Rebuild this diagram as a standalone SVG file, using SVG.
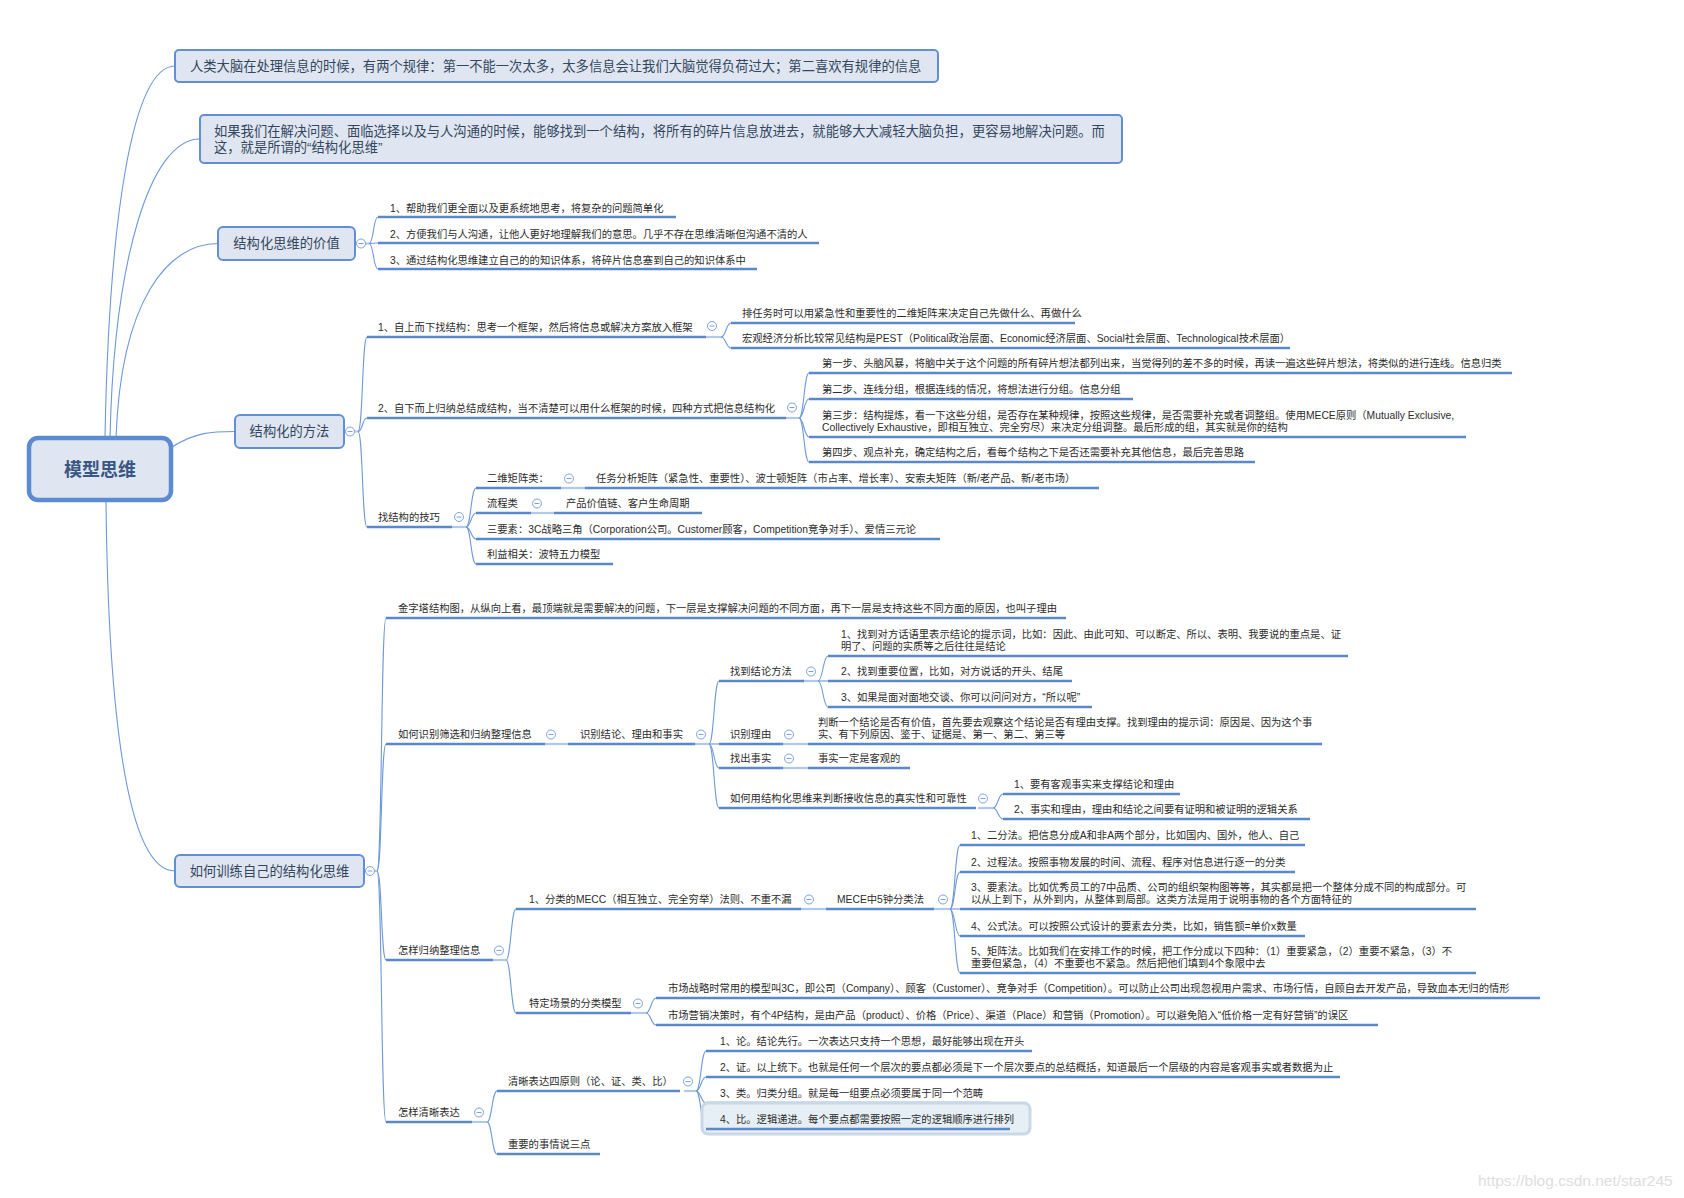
<svg xmlns="http://www.w3.org/2000/svg" xmlns:xlink="http://www.w3.org/1999/xlink" width="1684" height="1198" viewBox="0 0 1684 1198">
<style>
text{font-family:'Liberation Sans','Noto Sans CJK SC',sans-serif;dominant-baseline:central}
.t{font-size:10.3px;fill:#2b2b2b}
.bt{font-size:13.3px;fill:#34465e}
.bx{fill:#dfe6f1;stroke:#628fd3;stroke-width:2}
.u{stroke:#5b87cc;stroke-width:2.6;fill:none}
.s{stroke:#b0c8ea;stroke-width:2.2;fill:none}
.c{fill:none;stroke:#6e98d8;stroke-width:1.1}
.k circle{fill:#fff;stroke:#7ea2dc;stroke-width:1}
.k path{stroke:#7ea2dc;stroke-width:1}
</style>
<defs>
<g id="col" class="k"><circle cx="0" cy="0" r="4.5"/><path d="M-2.5,0h5"/></g>
</defs>
<rect width="1684" height="1198" fill="#fff"/>

<g id="connectors">
<path class="c" d="M105,438 C109,220 132,66 175,66"/>
<path class="c" d="M110,438 C114,260 150,139 200,139"/>
<path class="c" d="M116,438 C121,300 168,243.5 218,243.5"/>
<path class="c" d="M172,447 C196,432 212,431.5 235,431.5"/>
<path class="c" d="M106,500 C108,700 125,871 175,871"/>
<!-- value -->
<path class="s" d="M355,243.5H369"/>
<path class="c" d="M369,243.5 C374,243.5 373,217 378,217"/>
<path class="c" d="M369,243.5 L378,243"/>
<path class="c" d="M369,243.5 C374,243.5 373,269 378,269"/>
<!-- method -->
<path class="s" d="M344,431.5H358"/>
<path class="c" d="M358,431.5 C363,431.5 362,337 367,337"/>
<path class="c" d="M358,431.5 C363,431.5 362,418 367,418"/>
<path class="c" d="M358,431.5 C363,431.5 362,527 367,527"/>
<path class="s" d="M706,337H721"/>
<path class="c" d="M721,337 C726,337 726,323 731,323"/>
<path class="c" d="M721,337 C726,337 726,348 731,348"/>
<path class="s" d="M786,418H799"/>
<path class="c" d="M799,418 C804,418 804,373 809,373"/>
<path class="c" d="M799,418 C804,418 804,399 809,399"/>
<path class="c" d="M799,418 C804,418 804,437 809,437"/>
<path class="c" d="M799,418 C804,418 804,462 809,462"/>
<path class="s" d="M452,527H466"/>
<path class="c" d="M466,527 C471,527 471,488 476,488"/>
<path class="c" d="M466,527 C471,527 471,513 476,513"/>
<path class="c" d="M466,527 C471,527 471,539 476,539"/>
<path class="c" d="M466,527 C471,527 471,564 476,564"/>
<path class="s" d="M561,488H585"/>
<path class="s" d="M531,513H554"/>
<!-- train -->
<path class="s" d="M364,871H377"/>
<path class="c" d="M377,871 C382,871 381,618 386,618"/>
<path class="c" d="M377,871 C382,871 381,744 386,744"/>
<path class="c" d="M377,871 C382,871 381,960 386,960"/>
<path class="c" d="M377,871 C382,871 381,1122 386,1122"/>
<path class="s" d="M545,744H568"/>
<path class="s" d="M695,744H709"/>
<path class="c" d="M709,744 C714,744 714,681 719,681"/>
<path class="c" d="M709,744 L719,744"/>
<path class="c" d="M709,744 C714,744 714,768 719,768"/>
<path class="c" d="M709,744 C714,744 714,808 719,808"/>
<path class="s" d="M804,681H818"/>
<path class="c" d="M818,681 C823,681 823,656 828,656"/>
<path class="c" d="M818,681 L828,681"/>
<path class="c" d="M818,681 C823,681 823,707 828,707"/>
<path class="s" d="M783,744H808"/>
<path class="s" d="M783,768H808"/>
<path class="s" d="M978,808H993"/>
<path class="c" d="M993,808 C998,808 998,794 1003,794"/>
<path class="c" d="M993,808 C998,808 998,819 1003,819"/>
<path class="s" d="M493,960H506"/>
<path class="c" d="M506,960 C511,960 511,909 516,909"/>
<path class="c" d="M506,960 C511,960 511,1013 516,1013"/>
<path class="s" d="M801,909H826"/>
<path class="s" d="M934,909H950"/>
<path class="c" d="M950,909 C955,909 955,845 960,845"/>
<path class="c" d="M950,909 C955,909 955,872 960,872"/>
<path class="c" d="M950,909 L960,909"/>
<path class="c" d="M950,909 C955,909 955,936 960,936"/>
<path class="c" d="M950,909 C955,909 955,973 960,973"/>
<path class="s" d="M631,1013H646"/>
<path class="c" d="M646,1013 C651,1013 651,998 656,998"/>
<path class="c" d="M646,1013 C651,1013 651,1025 656,1025"/>
<path class="s" d="M472,1122H487"/>
<path class="c" d="M487,1122 C492,1122 492,1091 497,1091"/>
<path class="c" d="M487,1122 C492,1122 492,1154 497,1154"/>
<path class="s" d="M684,1091H696"/>
<path class="c" d="M696,1091 C701,1091 701,1051 706,1051"/>
<path class="c" d="M696,1091 C701,1091 701,1077 706,1077"/>
<path class="c" d="M696,1091 C701,1091 701,1103 706,1103"/>
<path class="c" d="M696,1091 C701,1091 701,1129 706,1129"/>
</g>

<g id="root">
<rect x="29" y="438" width="142" height="62" rx="9" fill="#dfe6f1" stroke="#5d8bd1" stroke-width="4.5"/>
<text x="100" y="469.5" text-anchor="middle" style="font-size:18px;font-weight:bold;fill:#3a5783">模型思维</text>
</g>

<g id="n-top1">
<rect class="bx" x="175" y="50" width="763" height="32" rx="4"/>
<text class="bt" x="190" y="66">人类大脑在处理信息的时候，有两个规律：第一不能一次太多，太多信息会让我们大脑觉得负荷过大；第二喜欢有规律的信息</text>
</g>
<g id="n-top2">
<rect class="bx" x="200" y="115" width="922" height="48" rx="4"/>
<text class="bt" x="214" y="131.5">如果我们在解决问题、面临选择以及与人沟通的时候，能够找到一个结构，将所有的碎片信息放进去，就能够大大减轻大脑负担，更容易地解决问题。而</text>
<text class="bt" x="214" y="147.5">这，就是所谓的“结构化思维”</text>
</g>

<g id="n-value">
<rect class="bx" x="218" y="227" width="137" height="33" rx="5"/>
<text class="bt" x="286.5" y="243.5" text-anchor="middle">结构化思维的价值</text>
<use href="#col" x="361" y="243.5"/>
</g>
<g id="n-value-1"><path class="u" d="M378,217H676"/><text class="t" x="390" y="208">1、帮助我们更全面以及更系统地思考，将复杂的问题简单化</text></g>
<g id="n-value-2"><path class="u" d="M378,243H819"/><text class="t" x="390" y="234">2、方便我们与人沟通，让他人更好地理解我们的意思。几乎不存在思维清晰但沟通不清的人</text></g>
<g id="n-value-3"><path class="u" d="M378,269H757"/><text class="t" x="390" y="260">3、通过结构化思维建立自己的的知识体系，将碎片信息塞到自己的知识体系中</text></g>

<g id="n-method">
<rect class="bx" x="235" y="415" width="109" height="33" rx="5"/>
<text class="bt" x="289.5" y="431.5" text-anchor="middle">结构化的方法</text>
<use href="#col" x="350" y="431.5"/>
</g>
<g id="n-m1"><path class="u" d="M367,337H706"/><text class="t" x="378" y="327.5">1、自上而下找结构：思考一个框架，然后将信息或解决方案放入框架</text><use href="#col" x="712" y="326"/></g>
<g id="n-m1a"><path class="u" d="M731,323H1075"/><text class="t" x="742" y="313.5">排任务时可以用紧急性和重要性的二维矩阵来决定自己先做什么、再做什么</text></g>
<g id="n-m1b"><path class="u" d="M731,348H1290"/><text class="t" x="742" y="338.5">宏观经济分析比较常见结构是PEST（Political政治层面、Economic经济层面、Social社会层面、Technological技术层面）</text></g>
<g id="n-m2"><path class="u" d="M367,418H786"/><text class="t" x="378" y="408.5">2、自下而上归纳总结成结构，当不清楚可以用什么框架的时候，四种方式把信息结构化</text><use href="#col" x="792" y="407.5"/></g>
<g id="n-m2a"><path class="u" d="M809,373H1512"/><text class="t" x="822" y="363.5">第一步、头脑风暴，将脑中关于这个问题的所有碎片想法都列出来，当觉得列的差不多的时候，再读一遍这些碎片想法，将类似的进行连线。信息归类</text></g>
<g id="n-m2b"><path class="u" d="M809,399H1133"/><text class="t" x="822" y="389.5">第二步、连线分组，根据连线的情况，将想法进行分组。信息分组</text></g>
<g id="n-m2c"><path class="u" d="M809,437H1466"/><text class="t" x="822" y="415">第三步：结构提炼，看一下这些分组，是否存在某种规律，按照这些规律，是否需要补充或者调整组。使用MECE原则（Mutually Exclusive,</text><text class="t" x="822" y="427">Collectively Exhaustive，即相互独立、完全穷尽）来决定分组调整。最后形成的组，其实就是你的结构</text></g>
<g id="n-m2d"><path class="u" d="M809,462H1255"/><text class="t" x="822" y="452.5">第四步、观点补充，确定结构之后，看每个结构之下是否还需要补充其他信息，最后完善思路</text></g>
<g id="n-m3"><path class="u" d="M367,527H452"/><text class="t" x="378" y="517.5">找结构的技巧</text><use href="#col" x="459" y="517"/></g>
<g id="n-t1"><path class="u" d="M476,488H561"/><text class="t" x="487" y="478.5">二维矩阵类：</text><use href="#col" x="569" y="478.5"/></g>
<g id="n-t1c"><path class="u" d="M585,488H1099"/><text class="t" x="596" y="478.5">任务分析矩阵（紧急性、重要性）、波士顿矩阵（市占率、增长率）、安索夫矩阵（新/老产品、新/老市场）</text></g>
<g id="n-t2"><path class="u" d="M476,513H531"/><text class="t" x="487" y="503.5">流程类</text><use href="#col" x="537" y="503.5"/></g>
<g id="n-t2c"><path class="u" d="M554,513H702"/><text class="t" x="566" y="503.5">产品价值链、客户生命周期</text></g>
<g id="n-t3"><path class="u" d="M476,539H940"/><text class="t" x="487" y="529.5">三要素：3C战略三角（Corporation公司。Customer顾客，Competition竞争对手）、爱情三元论</text></g>
<g id="n-t4"><path class="u" d="M476,564H613"/><text class="t" x="487" y="554.5">利益相关：波特五力模型</text></g>

<g id="n-train">
<rect class="bx" x="175" y="855" width="189" height="32" rx="5"/>
<text class="bt" x="269.5" y="871" text-anchor="middle">如何训练自己的结构化思维</text>
<use href="#col" x="370" y="871"/>
</g>
<g id="n-p1"><path class="u" d="M386,618H1066"/><text class="t" x="398" y="608.5">金字塔结构图，从纵向上看，最顶端就是需要解决的问题，下一层是支撑解决问题的不同方面，再下一层是支持这些不同方面的原因，也叫子理由</text></g>
<g id="n-p2"><path class="u" d="M386,744H545"/><text class="t" x="398" y="734.5">如何识别筛选和归纳整理信息</text><use href="#col" x="551" y="734.5"/></g>
<g id="n-p2c"><path class="u" d="M568,744H695"/><text class="t" x="580" y="734.5">识别结论、理由和事实</text><use href="#col" x="701" y="734.5"/></g>
<g id="n-q1"><path class="u" d="M719,681H804"/><text class="t" x="730" y="671.5">找到结论方法</text><use href="#col" x="811" y="671.5"/></g>
<g id="n-q1a"><path class="u" d="M828,656H1348"/><text class="t" x="841" y="634.5">1、找到对方话语里表示结论的提示词，比如：因此、由此可知、可以断定、所以、表明、我要说的重点是、证</text><text class="t" x="841" y="646.5">明了、问题的实质等之后往往是结论</text></g>
<g id="n-q1b"><path class="u" d="M828,681H1072"/><text class="t" x="841" y="671.5">2、找到重要位置，比如，对方说话的开头、结尾</text></g>
<g id="n-q1c"><path class="u" d="M828,707H1092"/><text class="t" x="841" y="697.5">3、如果是面对面地交谈、你可以问问对方，“所以呢”</text></g>
<g id="n-q2"><path class="u" d="M719,744H783"/><text class="t" x="730" y="734.5">识别理由</text><use href="#col" x="789" y="734.5"/></g>
<g id="n-q2c"><path class="u" d="M808,744H1322"/><text class="t" x="818" y="722.5">判断一个结论是否有价值，首先要去观察这个结论是否有理由支撑。找到理由的提示词：原因是、因为这个事</text><text class="t" x="818" y="734.5">实、有下列原因、鉴于、证据是、第一、第二、第三等</text></g>
<g id="n-q3"><path class="u" d="M719,768H783"/><text class="t" x="730" y="758.5">找出事实</text><use href="#col" x="789" y="758.5"/></g>
<g id="n-q3c"><path class="u" d="M808,768H910"/><text class="t" x="818" y="758.5">事实一定是客观的</text></g>
<g id="n-q4"><path class="u" d="M719,808H976"/><text class="t" x="730" y="798.5">如何用结构化思维来判断接收信息的真实性和可靠性</text><use href="#col" x="983" y="798.5"/></g>
<g id="n-q4a"><path class="u" d="M1003,794H1180"/><text class="t" x="1014" y="784.5">1、要有客观事实来支撑结论和理由</text></g>
<g id="n-q4b"><path class="u" d="M1003,819H1310"/><text class="t" x="1014" y="809.5">2、事实和理由，理由和结论之间要有证明和被证明的逻辑关系</text></g>
<g id="n-p3"><path class="u" d="M386,960H493"/><text class="t" x="398" y="950.5">怎样归纳整理信息</text><use href="#col" x="499" y="950.5"/></g>
<g id="n-r1"><path class="u" d="M516,909H801"/><text class="t" x="529" y="899.5">1、分类的MECC（相互独立、完全穷举）法则、不重不漏</text><use href="#col" x="809" y="899.5"/></g>
<g id="n-r1c"><path class="u" d="M826,909H934"/><text class="t" x="837" y="899.5">MECE中5钟分类法</text><use href="#col" x="943" y="899.5"/></g>
<g id="n-s1"><path class="u" d="M960,845H1305"/><text class="t" x="971" y="835.5">1、二分法。把信息分成A和非A两个部分，比如国内、国外，他人、自己</text></g>
<g id="n-s2"><path class="u" d="M960,872H1295"/><text class="t" x="971" y="862.5">2、过程法。按照事物发展的时间、流程、程序对信息进行逐一的分类</text></g>
<g id="n-s3"><path class="u" d="M960,909H1476"/><text class="t" x="971" y="887.5">3、要素法。比如优秀员工的7中品质、公司的组织架构图等等，其实都是把一个整体分成不同的构成部分。可</text><text class="t" x="971" y="899.5">以从上到下，从外到内，从整体到局部。这类方法是用于说明事物的各个方面特征的</text></g>
<g id="n-s4"><path class="u" d="M960,936H1305"/><text class="t" x="971" y="926.5">4、公式法。可以按照公式设计的要素去分类，比如，销售额=单价x数量</text></g>
<g id="n-s5"><path class="u" d="M960,973H1476"/><text class="t" x="971" y="951.5">5、矩阵法。比如我们在安排工作的时候，把工作分成以下四种：（1）重要紧急，（2）重要不紧急，（3）不</text><text class="t" x="971" y="963.5">重要但紧急，（4）不重要也不紧急。然后把他们填到4个象限中去</text></g>
<g id="n-r2"><path class="u" d="M516,1013H631"/><text class="t" x="529" y="1003.5">特定场景的分类模型</text><use href="#col" x="638" y="1003.5"/></g>
<g id="n-r2a"><path class="u" d="M656,998H1540"/><text class="t" x="668" y="988.5">市场战略时常用的模型叫3C，即公司（Company）、顾客（Customer）、竞争对手（Competition）。可以防止公司出现忽视用户需求、市场行情，自顾自去开发产品，导致血本无归的情形</text></g>
<g id="n-r2b"><path class="u" d="M656,1025H1378"/><text class="t" x="668" y="1015.5">市场营销决策时，有个4P结构，是由产品（product）、价格（Price）、渠道（Place）和营销（Promotion）。可以避免陷入“低价格一定有好营销”的误区</text></g>
<g id="n-p4"><path class="u" d="M386,1122H472"/><text class="t" x="398" y="1112.5">怎样清晰表达</text><use href="#col" x="479" y="1112.5"/></g>
<g id="n-u1"><path class="u" d="M497,1091H680"/><text class="t" x="508" y="1081.5">清晰表达四原则（论、证、类、比）</text><use href="#col" x="688" y="1081.5"/></g>
<g id="n-v1"><path class="u" d="M706,1051H1032"/><text class="t" x="720" y="1041.5">1、论。结论先行。一次表达只支持一个思想，最好能够出现在开头</text></g>
<g id="n-v2"><path class="u" d="M706,1077H1340"/><text class="t" x="720" y="1067.5">2、证。以上统下。也就是任何一个层次的要点都必须是下一个层次要点的总结概括，知道最后一个层级的内容是客观事实或者数据为止</text></g>
<g id="n-v3"><path class="u" d="M706,1103H990"/><text class="t" x="720" y="1093.5">3、类。归类分组。就是每一组要点必须要属于同一个范畴</text></g>
<g id="n-v4"><rect x="702" y="1103" width="328" height="31" rx="6" fill="#e6eff5" stroke="#c9d8e6" stroke-width="3"/><path class="u" d="M706,1129H1010"/><text class="t" x="720" y="1119.5">4、比。逻辑递进。每个要点都需要按照一定的逻辑顺序进行排列</text></g>
<g id="n-u2"><path class="u" d="M497,1154H600"/><text class="t" x="508" y="1144.5">重要的事情说三点</text></g>

<text x="1478" y="1180" style="font-size:15.5px;fill:#dedede">https://blog.csdn.net/star245</text>
</svg>
